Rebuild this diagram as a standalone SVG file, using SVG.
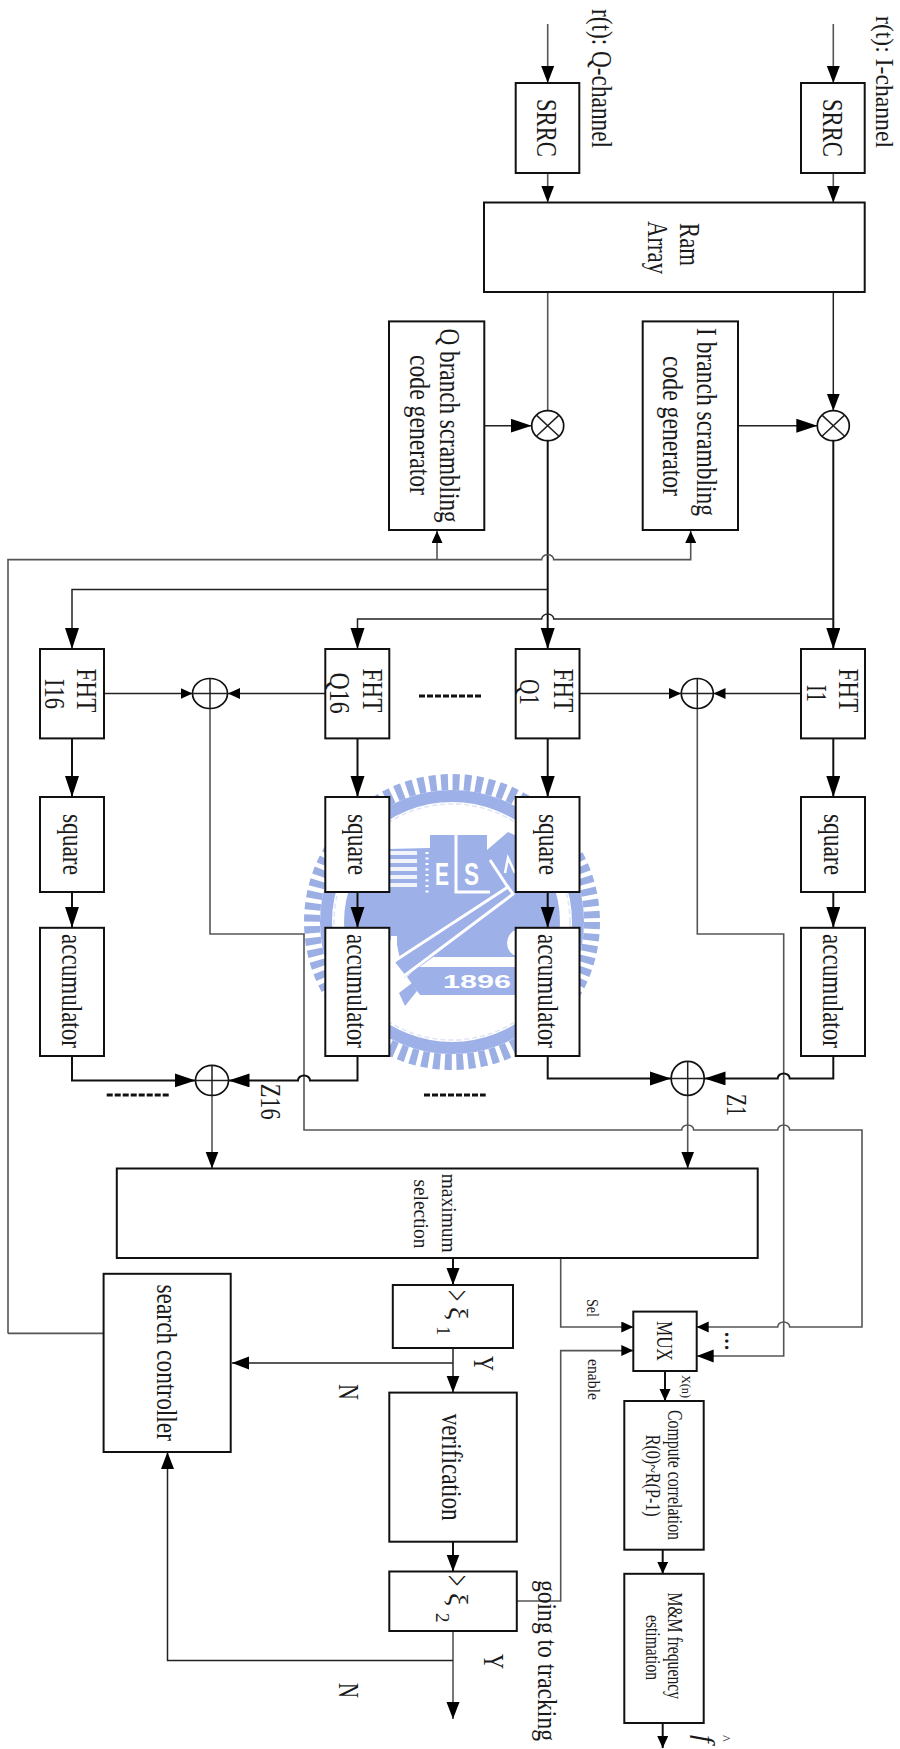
<svg xmlns="http://www.w3.org/2000/svg" width="900" height="1749" viewBox="0 0 900 1749">
<style>
.t{font-family:"Liberation Serif","Times New Roman",serif;fill:#1a1a1a;font-size:30px}
.m{font-size:20px}
.s{font-size:17px}
.box{fill:#fff;stroke:#111;stroke-width:2}
.c{fill:none;stroke:#222;stroke-width:1.5}
.g{fill:none;stroke:#555;stroke-width:1.6}
.k{fill:none;stroke:#111;stroke-width:2}
.d{fill:none;stroke:#111;stroke-width:3;stroke-dasharray:6 2}
.op{fill:#fff;fill-opacity:0;stroke:#111;stroke-width:1.7}
.b{fill:#9db0e8}
.w{fill:none;stroke:#fff;stroke-width:3}
.wt{font-family:"Liberation Sans",Arial,sans-serif;font-weight:bold;fill:#fff;font-size:32px}
</style>
<defs>
<marker id="L" markerUnits="userSpaceOnUse" markerWidth="24" markerHeight="16" refX="21" refY="7" orient="auto"><path d="M0 0L21 7L0 14z" fill="#000"/></marker>
<marker id="M" markerUnits="userSpaceOnUse" markerWidth="20" markerHeight="16" refX="17" refY="6.5" orient="auto"><path d="M0 0L17 6.500L0 13z" fill="#000"/></marker>
<marker id="S" markerUnits="userSpaceOnUse" markerWidth="14" markerHeight="14" refX="12" refY="5.500" orient="auto"><path d="M0 0L12 5.500L0 11z" fill="#000"/></marker>
<clipPath id="inner"><circle cx="452" cy="922" r="108"/></clipPath>
</defs>
<rect width="900" height="1749" fill="#fff"/>

<g id="watermark">
<circle cx="452" cy="922" r="140" fill="none" stroke="#9cafe4" stroke-width="16" stroke-dasharray="7 4.580"/>
<circle cx="452" cy="922" r="126" fill="none" stroke="#9db0e8" stroke-width="12"/>
<circle cx="452" cy="922" r="118" fill="none" stroke="#dfe5f7" stroke-width="1.500" stroke-dasharray="5 3"/>
<g clip-path="url(#inner)">
<path class="b" d="M340 850L430 848V835H487V850L508 832L570 860V957H430L510 902L404 978L396 940L340 940z"/>
<path class="b" d="M417 967H570V995H420L407 977z"/>
<g stroke="#f2f4fc" stroke-width="4" fill="none"><path d="M389 853H417M389 861H417M389 869H417M389 877H417M389 885H417"/></g>
<path d="M427 852V893" stroke="#fff" stroke-width="3" stroke-dasharray="2 3.500" fill="none"/>
<path class="w" d="M456 835V892H490" stroke-width="2.500"/>
<path class="w" d="M490 860L509 889"/>
<path class="b" d="M508 887L513 894L404 976L393 962z" stroke="#fff" stroke-width="3"/>
<path class="b" d="M399 993L412 983L417 991L405 1006z"/>
<path d="M505 873L508 858L515 873" fill="none" stroke="#fff" stroke-width="2.500"/>
<path d="M391 936H397V962H391z" fill="#fff"/>
<circle cx="521" cy="943" r="14" fill="#fff"/>
</g>
<text class="wt" x="435" y="885" textLength="14" lengthAdjust="spacingAndGlyphs">E</text>
<text class="wt" x="464" y="885" textLength="15" lengthAdjust="spacingAndGlyphs">S</text>
<text class="wt" x="443" y="988" style="font-size:18px" textLength="68" lengthAdjust="spacingAndGlyphs">1896</text>
</g>

<g id="connectors">
<path class="g" d="M547.700 24V83" marker-end="url(#M)"/>
<path class="g" d="M833.300 24V83" marker-end="url(#M)"/>
<path class="g" d="M547.700 173V202.500" marker-end="url(#M)"/>
<path class="g" d="M833.300 173V202.500" marker-end="url(#M)"/>
<path class="g" d="M547.700 292V411"/>
<path class="c" d="M833.300 292V410.700" marker-end="url(#M)"/>
<path class="c" d="M484.300 425.700H531.700" marker-end="url(#L)"/>
<path class="c" d="M738 425.700H817.300" marker-end="url(#L)"/>
<path class="k" d="M547.700 441V649" marker-end="url(#L)"/>
<path class="k" d="M833.300 441V649" marker-end="url(#L)"/>
<path class="g" d="M8 1333.400V559.600H541.700a6 5 0 0 1 12 0H690.700V531" marker-end="url(#S)"/>
<path class="g" d="M437 559.600V531" marker-end="url(#S)"/>
<path class="c" d="M547.700 589.400H72V649" marker-end="url(#L)"/>
<path class="c" d="M833.300 619H553.700a6 5 0 0 0 -12 0H357.500V649" marker-end="url(#L)"/>
<path class="g" d="M8 1333.400H103.600"/>

<path class="k" d="M72 738.400V797" marker-end="url(#L)"/>
<path class="k" d="M357.500 738.400V797" marker-end="url(#L)"/>
<path class="k" d="M547.700 738.400V797" marker-end="url(#L)"/>
<path class="k" d="M833.300 738.400V797" marker-end="url(#L)"/>
<path class="k" d="M72 892V927.800" marker-end="url(#L)"/>
<path class="k" d="M357.500 892V927.800" marker-end="url(#L)"/>
<path class="k" d="M547.700 892V927.800" marker-end="url(#L)"/>
<path class="k" d="M833.300 892V927.800" marker-end="url(#L)"/>

<path class="c" d="M104 693.500H192.500" marker-end="url(#S)"/>
<path class="c" d="M325.500 693.500H228" marker-end="url(#S)"/>
<path class="c" d="M579.500 693.500H681" marker-end="url(#S)"/>
<path class="c" d="M801 693.500H713.500" marker-end="url(#S)"/>

<path class="g" d="M210 708.500V934H304V1130H681.700a6 5 0 0 1 12 0H777.700a6 5 0 0 1 12 0H862V1327H789.700a6 5 0 0 0 -12 0H696.700" marker-end="url(#S)"/>
<path class="g" d="M697.300 708.500V934H783.700V1356H696.700" marker-end="url(#M)"/>

<path class="k" d="M72 1056V1080.400H195.500" marker-end="url(#L)"/>
<path class="k" d="M357.500 1056V1080.400H310a6 5 0 0 0 -12 0H228.500" marker-end="url(#L)"/>
<path class="k" d="M547.700 1056V1078.400H671" marker-end="url(#L)"/>
<path class="k" d="M833.300 1056V1078.400H789.700a6 5 0 0 0 -12 0H704.500" marker-end="url(#L)"/>
<path class="g" d="M212 1095.500V1168.500" marker-end="url(#M)"/>
<path class="g" d="M687.700 1095.500V1168.500" marker-end="url(#M)"/>

<path class="d" d="M419 696H482"/>
<path class="d" d="M106.700 1095H169"/>
<path class="d" d="M424 1095H485.700"/>

<path class="k" d="M453 1258V1285" marker-end="url(#M)"/>
<path class="c" d="M453 1348V1392.600" marker-end="url(#M)"/>
<path class="c" d="M453 1363H232" marker-end="url(#M)"/>
<path class="k" d="M453 1541.700V1571.500" marker-end="url(#M)"/>
<path class="g" d="M453 1631V1719" marker-end="url(#M)"/>
<path class="c" d="M453 1660.500H167.500V1452" marker-end="url(#M)"/>
<path class="g" d="M516.800 1601H560.700V1350.600H633.300" marker-end="url(#S)"/>
<path class="g" d="M560.700 1258V1327H633.300" marker-end="url(#S)"/>
<path class="k" d="M665 1371V1401" marker-end="url(#S)"/>
<path class="k" d="M662.700 1549.700V1573.800" marker-end="url(#S)"/>
<path class="k" d="M662.700 1723V1748" marker-end="url(#S)"/>
</g>

<g id="srrc-q"><rect class="box" x="515.700" y="83" width="63.600" height="90"/><text class="t" transform="translate(536.700,99) rotate(90)" textLength="58" lengthAdjust="spacingAndGlyphs">SRRC</text></g>
<g id="srrc-i"><rect class="box" x="801" y="83" width="63.700" height="90"/><text class="t" transform="translate(822.700,99) rotate(90)" textLength="58" lengthAdjust="spacingAndGlyphs">SRRC</text></g>
<g id="ram"><rect class="box" x="484" y="202.500" width="380.700" height="89.500"/><text class="t" transform="translate(680,223) rotate(90)" textLength="43" lengthAdjust="spacingAndGlyphs">Ram</text><text class="t" transform="translate(648,221) rotate(90)" textLength="53" lengthAdjust="spacingAndGlyphs">Array</text></g>
<g id="gen-q"><rect class="box" x="389" y="321.400" width="95.300" height="208.600"/><text class="t" transform="translate(440,328.600) rotate(90)" textLength="194" lengthAdjust="spacingAndGlyphs">Q branch scrambling</text><text class="t" transform="translate(410,355) rotate(90)" textLength="140" lengthAdjust="spacingAndGlyphs">code generator</text></g>
<g id="gen-i"><rect class="box" x="642.700" y="321.400" width="95.300" height="208.600"/><text class="t" transform="translate(696.700,328) rotate(90)" textLength="188" lengthAdjust="spacingAndGlyphs">I branch scrambling</text><text class="t" transform="translate(663,356) rotate(90)" textLength="140" lengthAdjust="spacingAndGlyphs">code generator</text></g>
<g id="mult-q"><ellipse class="op" cx="547.700" cy="425.700" rx="16" ry="15"/><path class="c" d="M536.400 415.100L559 436.300M559 415.100L536.400 436.300"/></g>
<g id="mult-i"><ellipse class="op" cx="833.300" cy="425.700" rx="16" ry="15"/><path class="c" d="M822 415.100L844.600 436.300M844.600 415.100L822 436.300"/></g>

<g id="fht-i16"><rect class="box" x="40" y="649" width="64" height="89.400"/><text class="t" transform="translate(77,668.600) rotate(90)" textLength="43.700" lengthAdjust="spacingAndGlyphs">FHT</text><text class="t" transform="translate(45,679) rotate(90)" textLength="30" lengthAdjust="spacingAndGlyphs">I16</text></g>
<g id="fht-q16"><rect class="box" x="325.300" y="649" width="64" height="89.400"/><text class="t" transform="translate(363,668.600) rotate(90)" textLength="43.700" lengthAdjust="spacingAndGlyphs">FHT</text><text class="t" transform="translate(330,672.600) rotate(90)" textLength="41" lengthAdjust="spacingAndGlyphs">Q16</text></g>
<g id="fht-q1"><rect class="box" x="515.700" y="649" width="63.800" height="89.400"/><text class="t" transform="translate(554,668.600) rotate(90)" textLength="43.700" lengthAdjust="spacingAndGlyphs">FHT</text><text class="t" transform="translate(520,679) rotate(90)" textLength="26" lengthAdjust="spacingAndGlyphs">Q1</text></g>
<g id="fht-i1"><rect class="box" x="801" y="649" width="64" height="89.400"/><text class="t" transform="translate(839,668.600) rotate(90)" textLength="43.700" lengthAdjust="spacingAndGlyphs">FHT</text><text class="t" transform="translate(807,685) rotate(90)" textLength="17" lengthAdjust="spacingAndGlyphs">I1</text></g>

<g id="sq-i16"><rect class="box" x="40" y="797" width="64" height="95"/><text class="t" transform="translate(63,814) rotate(90)" textLength="61" lengthAdjust="spacingAndGlyphs">square</text></g>
<g id="sq-q16"><rect class="box" x="325.300" y="797" width="64" height="95"/><text class="t" transform="translate(348.300,814) rotate(90)" textLength="61" lengthAdjust="spacingAndGlyphs">square</text></g>
<g id="sq-q1"><rect class="box" x="515.700" y="797" width="63.800" height="95"/><text class="t" transform="translate(538.700,814) rotate(90)" textLength="61" lengthAdjust="spacingAndGlyphs">square</text></g>
<g id="sq-i1"><rect class="box" x="801" y="797" width="64" height="95"/><text class="t" transform="translate(824,814) rotate(90)" textLength="61" lengthAdjust="spacingAndGlyphs">square</text></g>

<g id="acc-i16"><rect class="box" x="40" y="927.800" width="64" height="128.200"/><text class="t" transform="translate(62,934) rotate(90)" textLength="114" lengthAdjust="spacingAndGlyphs">accumulator</text></g>
<g id="acc-q16"><rect class="box" x="325.300" y="927.800" width="64" height="128.200"/><text class="t" transform="translate(347.300,934) rotate(90)" textLength="114" lengthAdjust="spacingAndGlyphs">accumulator</text></g>
<g id="acc-q1"><rect class="box" x="515.700" y="927.800" width="63.800" height="128.200"/><text class="t" transform="translate(537.700,934) rotate(90)" textLength="114" lengthAdjust="spacingAndGlyphs">accumulator</text></g>
<g id="acc-i1"><rect class="box" x="801" y="927.800" width="64" height="128.200"/><text class="t" transform="translate(823,934) rotate(90)" textLength="114" lengthAdjust="spacingAndGlyphs">accumulator</text></g>

<g id="sum-top-16"><ellipse class="op" cx="210" cy="693.500" rx="17.500" ry="15"/><path class="c" d="M192.500 693.500H227.500M210 678.500V708.500"/></g>
<g id="sum-top-1"><ellipse class="op" cx="697.300" cy="693.500" rx="16" ry="15"/><path class="c" d="M681.300 693.500H713.300M697.300 678.500V708.500"/></g>
<g id="sum-bot-16"><ellipse class="op" cx="212" cy="1080.400" rx="16.500" ry="15"/><path class="c" d="M195.500 1080.400H228.500M212 1065.400V1095.400"/></g>
<g id="sum-bot-1"><ellipse class="op" cx="687.700" cy="1078.400" rx="16.500" ry="17"/><path class="c" d="M671.200 1078.400H704.200M687.700 1061.400V1095.400"/></g>

<g id="maxsel"><rect class="box" x="116.800" y="1168.500" width="640.900" height="89.500"/><text class="t m" transform="translate(441.800,1173.700) rotate(90)" textLength="79" lengthAdjust="spacingAndGlyphs">maximum</text><text class="t m" transform="translate(414,1179.400) rotate(90)" textLength="69" lengthAdjust="spacingAndGlyphs">selection</text></g>
<g id="th1"><rect class="box" x="392.800" y="1285" width="120.200" height="63"/><text class="t" style="font-size:36px" transform="translate(445,1290) rotate(90) scale(.55,1)">&gt;</text><text class="t" style="font-size:28px" transform="translate(449,1307) rotate(90)">ξ</text><text class="t" style="font-size:19px" transform="translate(437,1326) rotate(90)">1</text></g>
<g id="verify"><rect class="box" x="389.300" y="1392.600" width="127.500" height="149.100"/><text class="t" transform="translate(442,1413.700) rotate(90)" textLength="107" lengthAdjust="spacingAndGlyphs">verification</text></g>
<g id="th2"><rect class="box" x="389.300" y="1571.500" width="127.500" height="59.500"/><text class="t" style="font-size:36px" transform="translate(445,1575) rotate(90) scale(.55,1)">&gt;</text><text class="t" style="font-size:28px" transform="translate(449,1593) rotate(90)">ξ</text><text class="t" style="font-size:19px" transform="translate(436,1613) rotate(90)">2</text></g>
<g id="search"><rect class="box" x="103.600" y="1273.800" width="127.100" height="178.200"/><text class="t" transform="translate(157,1284.500) rotate(90)" textLength="156.500" lengthAdjust="spacingAndGlyphs">search controller</text></g>
<g id="mux"><rect class="box" x="633.300" y="1311.600" width="63.400" height="59.400"/><text class="t" style="font-size:23px" transform="translate(656.700,1321) rotate(90)" textLength="40" lengthAdjust="spacingAndGlyphs">MUX</text></g>
<g id="corr"><rect class="box" x="624.300" y="1401" width="79.400" height="148.700"/><text class="t m" transform="translate(667.700,1410) rotate(90)" textLength="130" lengthAdjust="spacingAndGlyphs">Compute correlation</text><text class="t m" transform="translate(646,1434.700) rotate(90)" textLength="82" lengthAdjust="spacingAndGlyphs">R(0)~R(P-1)</text></g>
<g id="mm"><rect class="box" x="624.300" y="1573.800" width="79.400" height="149.200"/><text class="t m" transform="translate(668,1592.500) rotate(90)" textLength="106.500" lengthAdjust="spacingAndGlyphs">M&amp;M frequency</text><text class="t m" transform="translate(646,1615) rotate(90)" textLength="65" lengthAdjust="spacingAndGlyphs">estimation</text></g>

<g id="labels">
<text class="t" transform="translate(592,9) rotate(90)" textLength="139" lengthAdjust="spacingAndGlyphs">r(t): Q-channel</text>
<text class="t" style="font-size:25px" transform="translate(876,16) rotate(90)" textLength="132" lengthAdjust="spacingAndGlyphs">r(t): I-channel</text>
<text class="t" transform="translate(260.700,1083.700) rotate(90)" textLength="36" lengthAdjust="spacingAndGlyphs">Z16</text>
<text class="t" transform="translate(726.700,1094) rotate(90)" textLength="22" lengthAdjust="spacingAndGlyphs">Z1</text>
<text class="t" style="font-size:27px" transform="translate(538,1580) rotate(90) scale(.873,1)">going to tracking</text>
<text class="t" transform="translate(474,1356) rotate(90)" textLength="15" lengthAdjust="spacingAndGlyphs">Y</text>
<text class="t" transform="translate(339,1384) rotate(90)" textLength="16" lengthAdjust="spacingAndGlyphs">N</text>
<text class="t" transform="translate(484,1654) rotate(90)" textLength="15" lengthAdjust="spacingAndGlyphs">Y</text>
<text class="t" transform="translate(339,1683) rotate(90)" textLength="15" lengthAdjust="spacingAndGlyphs">N</text>
<text class="t s" transform="translate(587,1299) rotate(90)" textLength="18" lengthAdjust="spacingAndGlyphs">Sel</text>
<text class="t s" transform="translate(588,1359) rotate(90)" textLength="41" lengthAdjust="spacingAndGlyphs">enable</text>
<text class="t" style="font-size:13px" transform="translate(682,1375) rotate(90)" textLength="23" lengthAdjust="spacingAndGlyphs">X(n)</text>
<text class="t" style="font-size:20px;font-weight:bold" transform="translate(725,1332) rotate(90)" textLength="18" lengthAdjust="spacing">...</text>
<text class="t" style="font-size:28px;font-style:italic" transform="translate(696,1735) rotate(90)">f</text>
<text class="t" style="font-size:14px" transform="translate(720,1735) rotate(90)">^</text>
</g>
</svg>
